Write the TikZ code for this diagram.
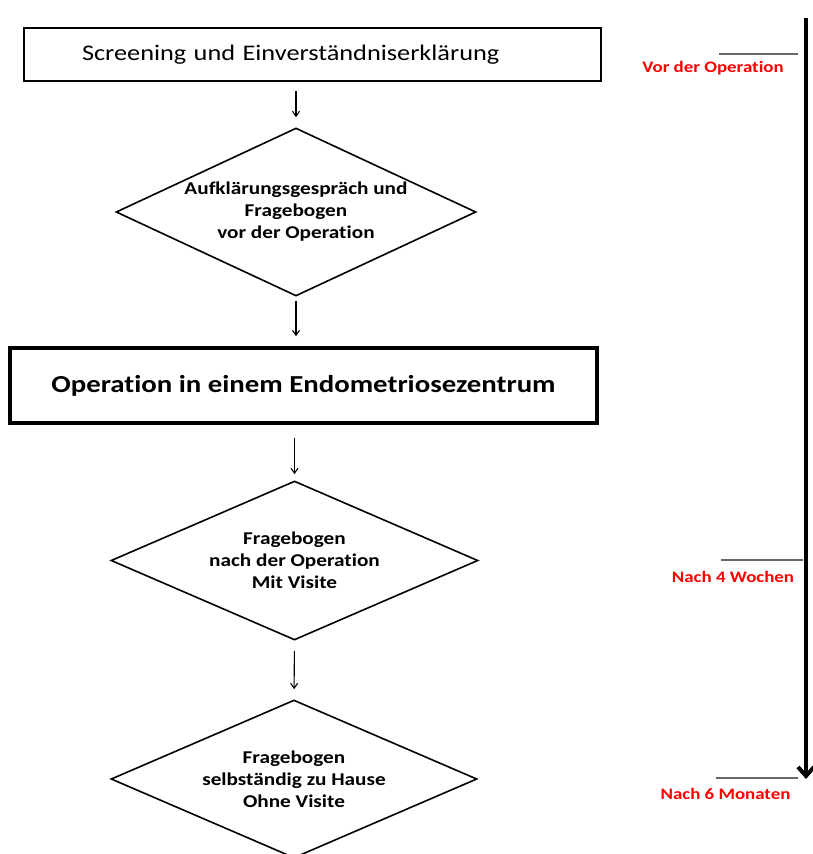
\documentclass[tikz,border=0pt]{standalone}
\usepackage{fontspec}
\setmainfont[FakeStretch=1.18,Ligatures=NoCommon]{Carlito}
\usetikzlibrary{shapes.geometric,arrows.meta}
\tikzset{
  kasten/.style={draw, line width=2pt, minimum height=53pt, inner sep=0pt},
  raute/.style={draw, diamond, line width=1.6pt, aspect=2.2, inner sep=0pt, align=center, font=\fontsize{18}{22}\selectfont\bfseries},
  pfeil/.style={-{Straight Barb[length=5pt,width=7pt]}, line width=1.1pt},
  marke/.style={draw=black!60, line width=1.5pt},
  zeit/.style={text=red, font=\fontsize{16}{19}\selectfont\bfseries}
}

\begin{document}
\begin{tikzpicture}[x=1pt,y=-1pt]
\useasboundingbox (0,0) rectangle (812,854);
\node[kasten, minimum width=577pt, inner xsep=58pt, text width=461pt, align=left, font=\fontsize{22.3}{27}\selectfont] (Scr) at (312.5,54.5) {Screening und Einverständniserklärung};
\node[raute, minimum width=360pt, minimum height=168pt] (Auf) at (296,212) {Aufklärungsgespräch und\\Fragebogen\\vor der Operation};
\node[kasten, line width=3.5pt, minimum width=587pt, minimum height=75pt, font=\fontsize{24.4}{29}\selectfont\bfseries] (Op) at (303.5,385.5) {Operation in einem Endometriosezentrum};
\node[raute, minimum width=367pt, minimum height=159pt] (FB1) at (294.5,560.5) {Fragebogen\\nach der Operation\\Mit Visite};
\node[raute, minimum width=366pt, minimum height=158pt] (FB2) at (294,779) {Fragebogen\\selbständig zu Hause\\Ohne Visite};
\draw [pfeil, shorten <=9pt, shorten >=10pt] (Scr.south -| Auf.north) -- (Auf.north);
\draw [pfeil, shorten <=4pt, shorten >=10pt] (Auf.south) -- (Auf.south |- Op.north);
\draw [pfeil, shorten <=13pt, shorten >=6pt] (Op.south -| FB1.north) -- (FB1.north);
\draw [pfeil, shorten <=10pt, shorten >=10pt] (FB1.south) -- (FB2.north);
% Zeitachse
\coordinate (T0) at (806,18);
\coordinate (T1) at (806,779);
\draw [line width=4pt, -{Straight Barb[length=9pt,width=16pt]}] (T0) -- (T1);
\coordinate (V1) at (719,54);
\coordinate (V2) at (798,54);
\coordinate (W1) at (721,560);
\coordinate (W2) at (803,560);
\coordinate (M1) at (716,778);
\coordinate (M2) at (798,778);
\draw [marke] (V1) -- (V2);
\draw [marke] (W1) -- (W2);
\draw [marke] (M1) -- (M2);
\node[zeit] (Vor) at (713,68) {Vor der Operation};
\node[zeit] (Woch) at (733,577) {Nach 4 Wochen};
\node[zeit] (Mon) at (725.5,794) {Nach 6 Monaten};
\end{tikzpicture}
\end{document}
